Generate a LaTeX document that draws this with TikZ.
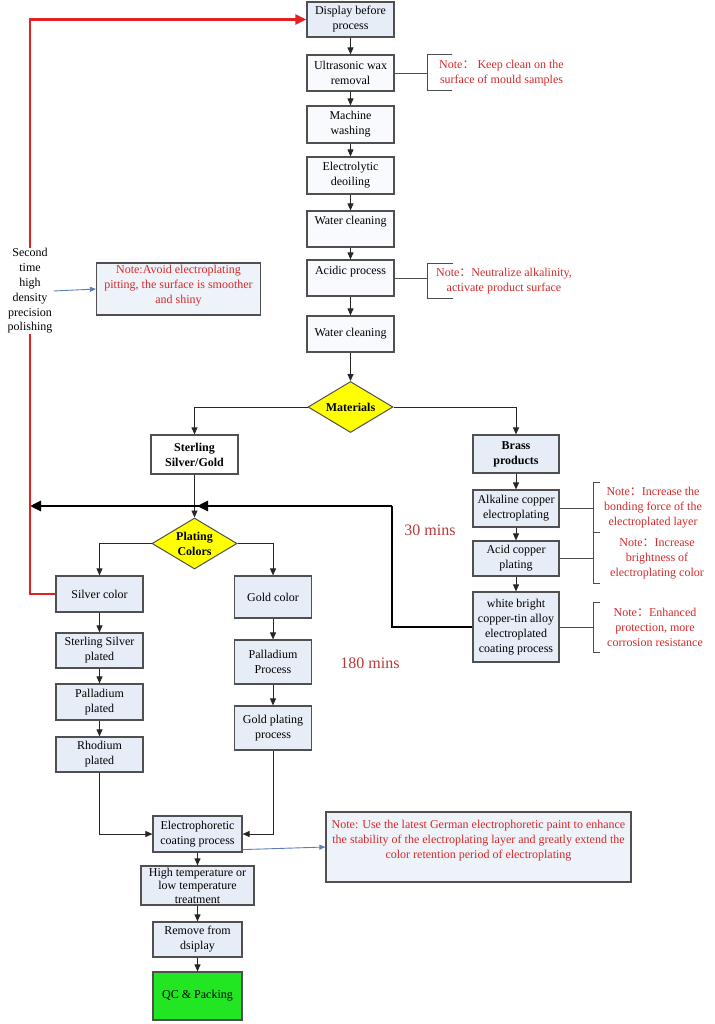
\documentclass[tikz,border=0pt]{standalone}
\usepackage{fontspec}
\setmainfont{Liberation Serif}
\newfontfamily\cjkfont{Noto Sans CJK SC}
\usetikzlibrary{shapes.geometric,arrows.meta}
\newcommand{\fcolon}{{\cjkfont ：}}
\newcommand{\boxfont}{\fontsize{12}{15}\selectfont}
\definecolor{boxblue}{HTML}{E7EDF7}
\definecolor{boxwhite}{HTML}{F8FAFD}
\definecolor{boxline}{HTML}{505050}
\definecolor{notered}{HTML}{D42A2A}
\definecolor{minsred}{HTML}{B8393A}
\definecolor{loopred}{HTML}{E02222}
\definecolor{qcgreen}{HTML}{22E622}
\definecolor{diamyellow}{HTML}{FFFF00}
\definecolor{arrowblue}{HTML}{5B7FBA}
\definecolor{notefill}{HTML}{EEF2F9}
\tikzset{
  box/.style={draw=boxline, line width=1.2pt, fill=boxblue, inner sep=1pt, align=center, font=\boxfont},
  wbox/.style={box, fill=boxwhite},
  sz/.style 2 args={minimum width=#1pt, minimum height=#2pt},
  diam/.style={diamond, draw=boxline, line width=1pt, fill=diamyellow, minimum width=85pt, minimum height=51pt, inner sep=0pt},
  btext/.style={font=\boxfont\bfseries, align=center, inner sep=0pt},
  notetxt/.style={text=notered, align=center, font=\boxfont, inner sep=0pt},
  notebox/.style={draw=boxline, line width=1.3pt, fill=notefill},
  arr/.style={draw=black!85, line width=0.9pt, -{Triangle[length=7pt,width=6pt]}},
  brk/.style={draw=black!70, line width=0.8pt},
  thk/.style={draw=black, line width=2.8pt},
  redl/.style={draw=loopred, line width=2.4pt, -{Triangle[length=11pt,width=10pt]}},
  barrow/.style={draw=arrowblue, line width=0.9pt, -{Triangle[length=6pt,width=5pt]}},
  mins/.style={text=minsred, font=\fontsize{16}{18}\selectfont, inner sep=0pt}
}
\begin{document}
\begin{tikzpicture}[x=1pt,y=-1pt]
\fill[white] (0,0) rectangle (714,1024);
\useasboundingbox (0,0) rectangle (714,1024);

% main column
\node[box,sz={87}{35}] (disp) at (350.5,19.5) {Display before\\process};
\node[wbox,sz={87}{36}] (ultra) at (350.5,73) {Ultrasonic wax\\removal};
\node[wbox,sz={87}{37}] (mach) at (350.5,124.5) {Machine\\washing};
\node[wbox,sz={87}{37}] (elec) at (350.5,175.5) {Electrolytic\\deoiling};
\node[wbox,sz={87}{36},text height=9pt,text depth=17pt] (wc1) at (350.5,229) {Water cleaning};
\node[wbox,sz={87}{36},text height=9pt,text depth=17pt] (acid) at (350.5,278) {Acidic process};
\node[wbox,sz={87}{36}] (wc2) at (350.5,334) {Water cleaning};
\node[diam] (mat) at (350.5,407) {};
\node[btext] (matt) at (mat) {Materials};

% branches
\node[box,fill=white,sz={87}{39},font=\boxfont\bfseries] (ster) at (194.5,454.5) {Sterling\\Silver/Gold};
\node[box,sz={86}{38},font=\boxfont\bfseries] (brass) at (516,454) {Brass\\products};
\node[box,sz={86}{37}] (alk) at (516,508.5) {Alkaline copper\\electroplating};
\node[box,sz={86}{35}] (acu) at (516,558.5) {Acid copper\\plating};
\node[box,sz={86}{70}] (wb) at (516,627) {white bright\\copper-tin alloy\\electroplated\\coating process};

\node[diam] (pc) at (194.5,543.5) {};
\node[btext] (pct) at (pc) {Plating\\Colors};

\node[box,sz={87}{36}] (silver) at (99.5,594) {Silver color};
\node[box,sz={87}{35}] (ssp) at (99.5,650.5) {Sterling Silver\\plated};
\node[box,sz={87}{36}] (pdp) at (99.5,702) {Palladium\\plated};
\node[box,sz={87}{35}] (rhp) at (99.5,754.5) {Rhodium\\plated};

\node[box,sz={77}{42}] (gold) at (273,597) {Gold color};
\node[box,sz={77}{44}] (pdpr) at (273,662) {Palladium\\Process};
\node[box,sz={77}{44}] (gpp) at (273,728) {Gold plating\\process};

\node[box,sz={89}{36}] (ep) at (197.5,834) {Electrophoretic\\coating process};
\node[box,sz={113}{39},font=\fontsize{12}{13.5}\selectfont] (ht) at (197.5,885.5) {High temperature or\\low temperature\\treatment};
\node[box,sz={89}{35}] (rm) at (197.5,939.5) {Remove from\\dsiplay};
\node[box,sz={89}{48},fill=qcgreen] (qc) at (197.5,996) {QC \& Packing};

% column arrows
\draw[arr] (disp) -- (ultra);
\draw[arr] (ultra) -- (mach);
\draw[arr] (mach) -- (elec);
\draw[arr] (elec) -- (wc1);
\draw[arr] (wc1) -- (acid);
\draw[arr] (acid) -- (wc2);
\draw[arr] (wc2) -- (mat);
\draw[arr] (mat.west) -| (ster.north);
\draw[arr] (mat.east) -| (brass.north);
\draw[arr] (brass) -- (alk);
\draw[arr] (alk) -- (acu);
\draw[arr] (acu) -- (wb);
\draw[arr] (ster.south) -- (pc.north);
\draw[arr] (pc.west) -| (silver.north);
\draw[arr] (pc.east) -| (gold.north);
\draw[arr] (silver) -- (ssp);
\draw[arr] (ssp) -- (pdp);
\draw[arr] (pdp) -- (rhp);
\draw[arr] (gold) -- (pdpr);
\draw[arr] (pdpr) -- (gpp);
\draw[arr] (rhp.south) |- (ep.west);
\draw[arr] (gpp.south) |- (ep.east);
\draw[arr] (ep) -- (ht);
\draw[arr] (ht) -- (rm);
\draw[arr] (rm) -- (qc);

% red loop
\coordinate (rl1) at (30,594);
\draw[redl] (silver.west) -- (rl1) |- (disp.west);
\node[font=\fontsize{12}{14.8}\selectfont, align=center, fill=white, inner sep=1pt] (st) at (30,291) {Second\\time\\high\\density\\precision\\polishing};

% thick return line
\coordinate (tb1) at (392,506);
\coordinate (tb2) at (197,506);
\coordinate (tb3) at (30,506);
\draw[thk] (wb.west) -| (tb1);
\draw[thk,-{Triangle[length=11pt,width=10pt]}] (tb1) -- (tb3);
\draw[thk,-{Triangle[length=11pt,width=10pt]}] (tb1) -- (tb2);

% notes with brackets
\coordinate (b1) at (427,73);
\draw[brk] (452,54) -- (427,54) -- (427,90) -- (452,90);
\draw[brk] (ultra.east) -- (b1);
\node[notetxt] (n1) at (501.5,73) {Note\fcolon\ Keep clean on the\\surface of mould samples};

\coordinate (b2) at (427,278);
\draw[brk] (453,263) -- (427,263) -- (427,298) -- (453,298);
\draw[brk] (acid.east) -- (b2);
\node[notetxt] (n2) at (504,281) {Note\fcolon Neutralize alkalinity,\\activate product surface};

\coordinate (b3) at (593,508.5);
\coordinate (b4) at (593,558.5);
\coordinate (b5) at (593,627);
\draw[brk] (600,482) -- (593,482) -- (593,583) -- (600,583);
\draw[brk] (593,532) -- (600,532);
\draw[brk] (600,602) -- (593,602) -- (593,652) -- (600,652);
\draw[brk] (alk.east) -- (b3);
\draw[brk] (acu.east) -- (b4);
\draw[brk] (wb.east) -- (b5);
\node[notetxt] (n3) at (653,507.5) {Note\fcolon Increase the\\bonding force of the\\electroplated layer};
\node[notetxt] (n4) at (657,559) {Note\fcolon Increase\\brightness of\\electroplating color};
\node[notetxt] (n5) at (655,627.5) {Note\fcolon Enhanced\\protection, more\\corrosion resistance};

% boxed notes
\node[notebox,sz={164}{52}] (avoid) at (178.5,289) {};
\node[notetxt] (avoidt) at (178.5,286) {Note:Avoid electroplating\\pitting, the surface is smoother\\and shiny};
\draw[barrow] (st.east) -- (avoid.west);

\node[notebox,sz={305}{70}] (german) at (478.5,847) {};
\node[notetxt] (germant) at (478.5,841) {Note: Use the latest German electrophoretic paint to enhance\\the stability of the electroplating layer and greatly extend the\\color retention period of electroplating};
\draw[barrow] ([yshift=3pt]ep.south east) -- (german.west);

% durations
\node[mins] (m30) at (430,530) {30 mins};
\node[mins] (m180) at (370,663) {180 mins};
\end{tikzpicture}
\end{document}
